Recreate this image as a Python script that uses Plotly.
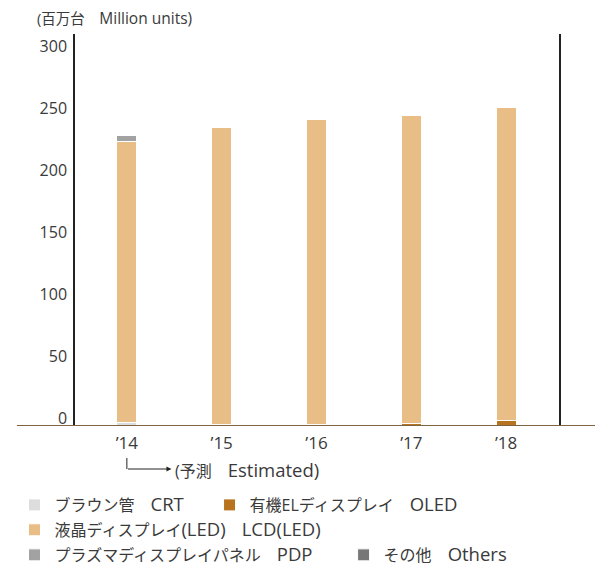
import plotly.graph_objects as go

years = ["’14", "’15", "’16", "’17", "’18"]
crt = [3, 1.2, 0.4, 0, 0]
oled = [0, 0, 1, 2, 4.5]
lcd = [226, 239.5, 246, 248.5, 252.5]
pdp = [5, 1, 0, 0, 0]
others = [0, 0, 0, 0, 0]

def lat(s, size=18.5):
    return f"<span style='font-size:{size}px'>{s}</span>"

series = [
    ("ブラウン管　" + lat("CRT"), crt, "#dcdddc", "legend"),
    ("有機ELディスプレイ　" + lat("OLED"), oled, "#b8731e", "legend2"),
    ("液晶ディスプレイ" + lat("(LED)") + "　" + lat("LCD(LED)"), lcd, "#e8be86", "legend3"),
    ("プラズマディスプレイパネル　" + lat("PDP"), pdp, "#a2a2a2", "legend4"),
    ("その他　" + lat("Others"), others, "#777777", "legend5"),
]

FONT = "'Open Sans', 'Noto Sans CJK JP', sans-serif"
TXT = "#3a3a3a"

xs = list(range(len(years)))
fig = go.Figure()
for name, vals, color, lg in series:
    fig.add_trace(go.Bar(
        x=xs, y=vals, name=name, width=0.21,
        marker=dict(color=color, line=dict(color="white", width=1)),
        legend=lg,
    ))

def leg(x, y):
    return dict(x=x, y=y, orientation="h", xanchor="left", yanchor="middle",
                font=dict(family=FONT, size=16, color=TXT),
                bgcolor="rgba(0,0,0,0)")

fig.update_layout(
    width=603, height=565,
    margin=dict(l=67, r=52, t=26, b=147, autoexpand=False),
    paper_bgcolor="white", plot_bgcolor="white",
    barmode="stack",
    font=dict(family=FONT, size=15, color=TXT),
    xaxis=dict(range=[-0.547, 4.558], tickvals=xs, ticktext=years,
               showgrid=False, zeroline=False, showline=False, ticks="",
               ticklabelstandoff=5, tickfont=dict(size=17, color=TXT)),
    yaxis=dict(range=[0, 316], tickvals=[0, 50, 100, 150, 200, 250, 300],
               showgrid=False, zeroline=False, showline=True, mirror=True,
               linecolor="#222222", linewidth=1.5, ticks="",
               ticklabelposition="outside top", ticklabelstandoff=3,
               ticklabelshift=4,
               tickfont=dict(size=16, color=TXT)),
    legend=leg(-0.125, -0.2015),
    legend2=leg(0.278, -0.2015),
    legend3=leg(-0.125, -0.265),
    legend4=leg(-0.125, -0.329),
    legend5=leg(0.555, -0.329),
    showlegend=True,
)

# baseline
fig.add_shape(type="line", xref="paper", yref="y", x0=-0.12, x1=1.12, y0=0, y1=0,
              line=dict(color="#7d6342", width=2), layer="above")
# estimate marker: vertical then arrow
fig.add_shape(type="line", xref="x", yref="paper", x0=0, x1=0, y0=-0.0816, y1=-0.1097,
              line=dict(color="#222222", width=1))
fig.add_annotation(x=0.47, y=-0.1097, xref="x", yref="paper", text="",
                   showarrow=True, ax=-45, ay=0, arrowhead=2, arrowsize=1,
                   arrowwidth=1, arrowcolor="#222222")
fig.add_annotation(x=0.49, y=-0.1097, xref="x", yref="paper",
                   text="(予測　" + lat("Estimated)"), showarrow=False,
                   xanchor="left", yanchor="middle",
                   font=dict(family=FONT, size=16, color=TXT))
fig.add_annotation(x=-0.083, y=1.041, xref="paper", yref="paper",
                   text="(百万台　" + lat("Million units)", 15.5), showarrow=False,
                   xanchor="left", yanchor="middle",
                   font=dict(family=FONT, size=14.5, color=TXT))

fig.write_html("out.html")
